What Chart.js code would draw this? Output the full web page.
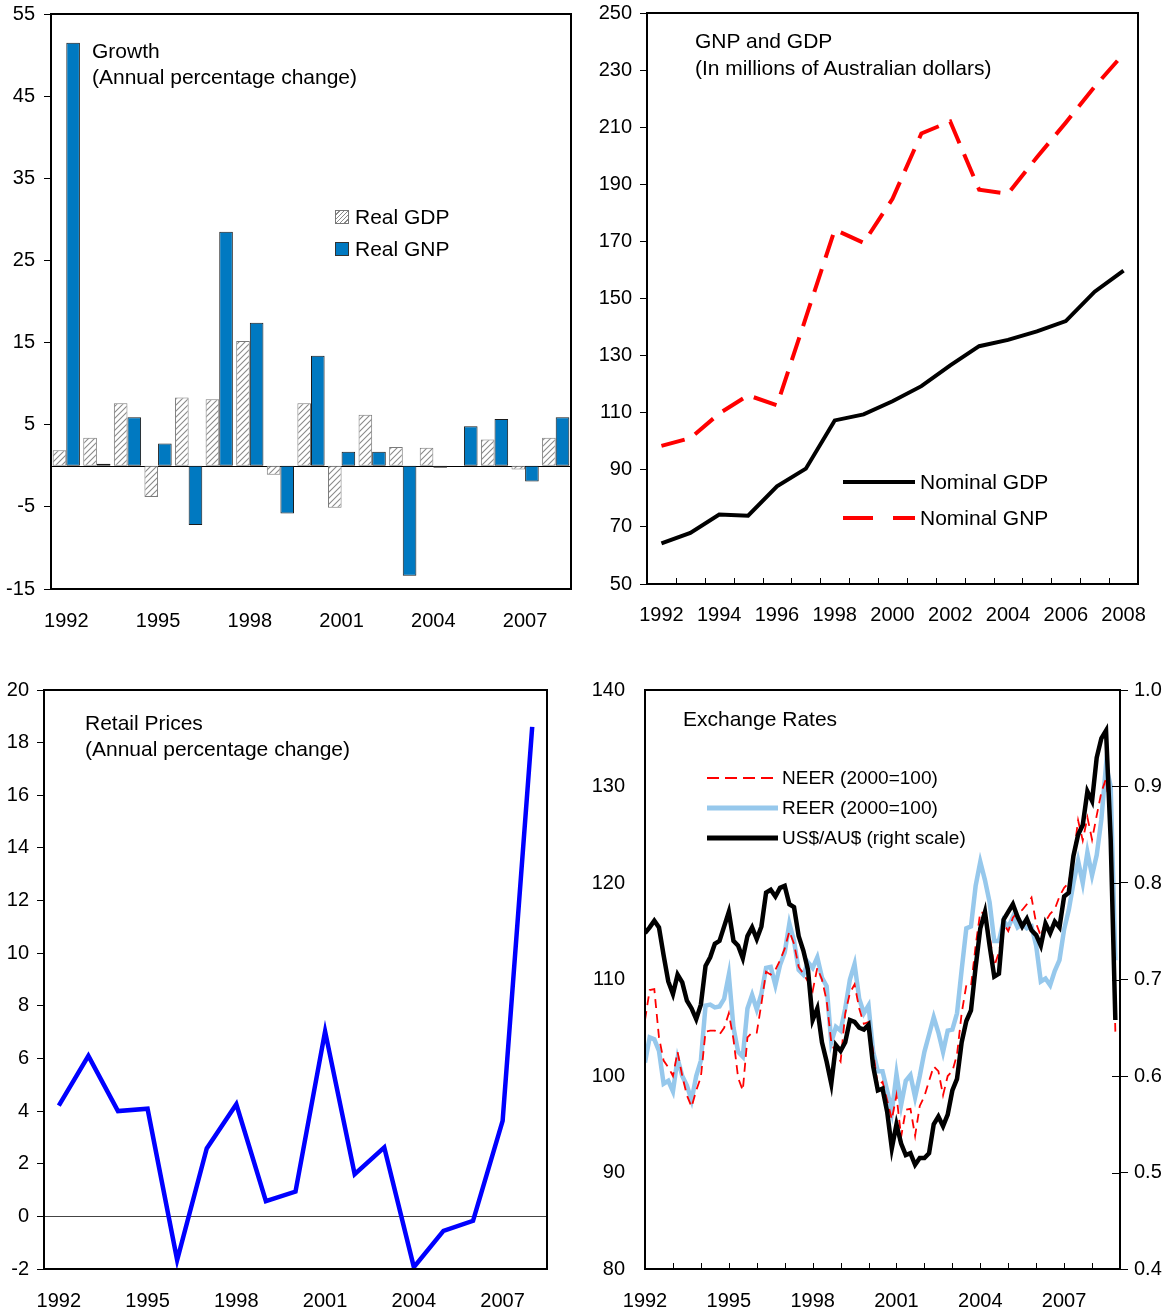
<!DOCTYPE html>
<html>
<head>
<meta charset="utf-8">
<title>Australia: growth, GNP/GDP, retail prices, exchange rates</title>
<script src="https://cdn.jsdelivr.net/npm/chart.js@4.4.1/dist/chart.umd.min.js"></script>
<style>
  body { margin: 0; background: #fff; font-family: "Liberation Sans", Arial, sans-serif; color: #000; }
  #page { position: relative; width: 1170px; height: 1316px; overflow: hidden; }
  canvas { position: absolute; }
  .note { position: absolute; font-size: 21px; line-height: 26px; white-space: nowrap; }
  .key { position: absolute; height: 24px; display: flex; align-items: center; font-size: 21px; white-space: nowrap; }
  .key.small { font-size: 19px; }
  .sq { width: 12px; height: 12px; border: 1px solid #333; margin-right: 6px; }
  .hatch { background: repeating-linear-gradient(135deg, #fff 0 2px, #8a8a8a 2px 3px); border-color: #777; }
  .key svg { margin-right: 5px; }
</style>
</head>
<body>
<div id="page">
  <canvas id="cTL" width="585" height="647" style="left:0;top:-7px"></canvas>
  <canvas id="cTR" width="585" height="647" style="left:585px;top:-7px"></canvas>
  <canvas id="cBL" width="585" height="656" style="left:0;top:660px"></canvas>
  <canvas id="cBR" width="585" height="656" style="left:585px;top:660px"></canvas>

  <div class="note" style="left:92px;top:38px">Growth<br>(Annual percentage change)</div>
  <div class="key" style="left:335px;top:205px"><span class="sq hatch"></span>Real GDP</div>
  <div class="key" style="left:335px;top:237px"><span class="sq" style="background:#0079c1"></span>Real GNP</div>

  <div class="note" style="left:695px;top:27px;line-height:27px">GNP and GDP<br>(In millions of Australian dollars)</div>
  <div class="key" style="left:843px;top:470px"><svg width="72" height="10"><line x1="0" y1="5" x2="72" y2="5" stroke="#000" stroke-width="4"/></svg>Nominal GDP</div>
  <div class="key" style="left:843px;top:506px"><svg width="72" height="10"><line x1="0" y1="5" x2="72" y2="5" stroke="#f00" stroke-width="4" stroke-dasharray="30 20"/></svg>Nominal GNP</div>

  <div class="note" style="left:85px;top:710px">Retail Prices<br>(Annual percentage change)</div>

  <div class="note" style="left:683px;top:706px">Exchange Rates</div>
  <div class="key small" style="left:707px;top:766px"><svg width="71" height="10" style="margin-right:4px"><line x1="0" y1="5" x2="71" y2="5" stroke="#f00" stroke-width="2" stroke-dasharray="12 6"/></svg>NEER (2000=100)</div>
  <div class="key small" style="left:707px;top:796px"><svg width="71" height="10" style="margin-right:4px"><line x1="0" y1="5" x2="71" y2="5" stroke="#96c8ec" stroke-width="5"/></svg>REER (2000=100)</div>
  <div class="key small" style="left:707px;top:826px"><svg width="71" height="10" style="margin-right:4px"><line x1="0" y1="5" x2="71" y2="5" stroke="#000" stroke-width="5"/></svg>US$/AU$ (right scale)</div>
</div>

<script>
// ---- data ----
var years = ['1992','1993','1994','1995','1996','1997','1998','1999','2000',
             '2001','2002','2003','2004','2005','2006','2007','2008'];

// growth, annual percent change
var realGdp = [1.9, 3.4, 7.6, -3.8, 8.3, 8.1, 15.2, -1.1, 7.6, -5.1, 6.2, 2.3, 2.2, 0, 3.2, -0.45, 3.4];
var realGnp = [51.5, 0.25, 5.9, 2.7, -7.2, 28.5, 17.4, -5.8, 13.4, 1.7, 1.7, -13.4, -0.25, 4.8, 5.7, -1.9, 5.9];
var growthTicks = [-15, -5, 5, 15, 25, 35, 45, 55];

// nominal GDP / GNP, millions of AU$
var nomGdp = [64.2, 67.9, 74.3, 73.9, 84.2, 90.4, 107.3, 109.4, 114.0, 119.3, 126.6, 133.3, 135.5, 138.5, 142.1, 152.4, 159.8];
var nomGnp = [98.4, 101.1, 109.7, 116.1, 112.6, 143.3, 174.1, 169.5, 184.9, 207.8, 212.0, 188.1, 186.7, 199.5, 211.6, 224.2, 235.7];
var levelTicks = [50, 70, 90, 110, 130, 150, 170, 190, 210, 230, 250];

// retail prices, annual percent change
var retail = [4.21, 6.1, 4.0, 4.09, -1.66, 2.58, 4.26, 0.58, 0.94, 7.03, 1.6, 2.62, -1.93, -0.55, -0.17, 3.63, 18.6];
var retailTicks = [-2, 0, 2, 4, 6, 8, 10, 12, 14, 16, 18, 20];

// exchange rates, one reading every two months from Jan 1992
var exStartYear = 1992;
var exMonthsPerPoint = 2;
var neer = [105.8,108.9,109.0,104.0,101.6,100.9,100.0,102.5,100.0,98.0,96.8,98.5,
            99.9,104.6,104.7,104.7,104.3,105.0,106.5,103.8,99.8,98.5,104.0,104.5,
            104.5,107.5,110.8,110.5,111.0,112.0,113.2,115.0,113.7,111.3,110.6,109.8,
            108.8,111.2,110.0,107.8,103.5,102.3,101.5,106.5,108.6,109.5,107.0,105.4,
            105.6,102.5,99.0,99.4,97.5,95.5,98.0,93.7,96.5,96.6,93.8,96.9,
            97.9,99.5,101.0,100.5,98.0,100.0,100.5,102.2,106.5,109.4,109.3,113.5,
            117.0,116.8,114.5,111.4,112.8,115.8,115.0,116.4,117.0,117.2,117.8,118.5,
            115.8,114.5,116.0,116.8,117.3,118.6,119.5,120.0,122.7,126.5,124.4,126.8,
            124.5,127.0,129.4,130.8,126.5,104.6];
var reer = [101.4,104.0,103.8,102.6,99.2,99.5,98.4,101.8,100.0,99.0,97.5,100.0,
            101.6,107.3,107.4,107.1,107.2,108.0,110.5,105.0,102.5,102.0,107.0,108.4,
            106.9,108.5,111.2,111.3,109.4,111.5,112.8,115.8,114.0,111.0,110.5,111.8,
            111.2,112.3,110.2,109.3,103.5,105.1,104.7,107.0,110.0,111.6,108.0,106.5,
            107.3,102.5,100.5,100.5,98.5,96.3,100.2,97.0,99.5,100.1,97.8,100.0,
            102.5,104.3,106.1,104.5,102.5,104.7,104.8,106.5,111.0,115.3,115.5,119.7,
            122.2,120.3,118.0,114.0,114.0,116.1,115.4,116.5,115.4,115.8,115.3,115.5,
            113.5,109.8,110.1,109.4,110.9,112.0,115.2,117.2,120.0,122.3,120.0,123.2,
            120.8,122.9,126.6,132.2,130.0,112.0];
var usdAud = [0.748,0.754,0.761,0.754,0.725,0.698,0.685,0.705,0.697,0.678,0.670,0.659,
              0.674,0.714,0.723,0.737,0.740,0.755,0.770,0.740,0.735,0.722,0.745,0.754,
              0.742,0.755,0.790,0.793,0.786,0.795,0.797,0.778,0.775,0.745,0.730,0.710,
              0.658,0.670,0.635,0.615,0.592,0.632,0.626,0.635,0.658,0.656,0.650,0.648,
              0.653,0.610,0.585,0.587,0.563,0.525,0.550,0.530,0.518,0.520,0.508,0.515,
              0.515,0.520,0.550,0.558,0.548,0.560,0.585,0.597,0.635,0.657,0.668,0.713,
              0.753,0.770,0.735,0.703,0.706,0.762,0.770,0.778,0.765,0.755,0.763,0.751,
              0.746,0.735,0.758,0.748,0.760,0.754,0.786,0.790,0.828,0.850,0.860,0.895,
              0.885,0.930,0.950,0.958,0.845,0.658];
var indexTicks = [80, 90, 100, 110, 120, 130, 140];
var usdTicks = [0.4, 0.5, 0.6, 0.7, 0.8, 0.9, 1.0];
var exYearTicks = [1992,1993,1994,1995,1996,1997,1998,1999,2000,2001,2002,2003,2004,2005,2006,2007,2008,2009];

// ---- helpers ----
Chart.defaults.font.family = '"Liberation Sans", Arial, sans-serif';
Chart.defaults.font.size = 20;
Chart.defaults.color = '#000';

function fixedTicks(list) {
    return function (scale) { scale.ticks = list.map(function (v) { return { value: v }; }); };
}
function fixedWidth(w) { return function (scale) { scale.width = w; }; }
function fixedHeight(h) { return function (scale) { scale.height = h; }; }

// box round the plot, optional zero line and inward tick marks on the x axis
function makeFrame(opts) {
    return {
        id: 'frame',
        beforeDatasetsDraw: function (chart) {
            if (!opts.zero) return;
            var ctx = chart.ctx, a = chart.chartArea;
            var y = Math.round(chart.scales.y.getPixelForValue(0)) + 0.5;
            ctx.save();
            ctx.strokeStyle = opts.zeroColor || '#000';
            ctx.lineWidth = 1;
            ctx.beginPath(); ctx.moveTo(a.left, y); ctx.lineTo(a.right, y); ctx.stroke();
            ctx.restore();
        },
        afterDatasetsDraw: function (chart) {
            var ctx = chart.ctx, a = chart.chartArea;
            ctx.save();
            ctx.strokeStyle = '#000';
            ctx.lineWidth = 1;
            if (opts.innerX) {
                opts.innerX(chart.scales.x).forEach(function (px) {
                    px = Math.round(px) + 0.5;
                    ctx.beginPath(); ctx.moveTo(px, a.bottom); ctx.lineTo(px, a.bottom - 6); ctx.stroke();
                });
            }
            if (opts.innerRight) {
                var s = chart.scales.y1;
                usdTicks.forEach(function (v) {
                    var py = Math.round(s.getPixelForValue(v)) + 0.5;
                    ctx.beginPath(); ctx.moveTo(a.right, py); ctx.lineTo(a.right - 8, py); ctx.stroke();
                });
            }
            ctx.lineWidth = 2;
            ctx.strokeRect(a.left, a.top, a.right - a.left, a.bottom - a.top);
            ctx.restore();
        }
    };
}

function yAxisOuter(min, max, list, width, pad) {
    return {
        min: min, max: max,
        afterBuildTicks: fixedTicks(list),
        afterFit: fixedWidth(width),
        border: { display: false },
        grid: { drawOnChartArea: false, tickLength: 7, tickColor: '#000', lineWidth: 1 },
        ticks: { padding: pad }
    };
}

// ---- growth bars ----
var tlCanvas = document.getElementById('cTL');
var tile = document.createElement('canvas');
tile.width = 6; tile.height = 6;
var tg = tile.getContext('2d');
tg.fillStyle = '#fff'; tg.fillRect(0, 0, 6, 6);
tg.strokeStyle = '#8a8a8a'; tg.lineWidth = 1.1;
tg.beginPath();
tg.moveTo(0, 6); tg.lineTo(6, 0);
tg.moveTo(-1, 1); tg.lineTo(1, -1);
tg.moveTo(5, 7); tg.lineTo(7, 5);
tg.stroke();
var hatch = tlCanvas.getContext('2d').createPattern(tile, 'repeat');

new Chart(tlCanvas, {
    type: 'bar',
    data: {
        labels: years,
        datasets: [
            { label: 'Real GDP', data: realGdp, backgroundColor: hatch, borderColor: '#7a7a7a', borderWidth: 1, borderSkipped: false },
            { label: 'Real GNP', data: realGnp, backgroundColor: '#0079c1', borderColor: '#1b1b1b', borderWidth: 1, borderSkipped: false }
        ]
    },
    options: {
        responsive: false, animation: false,
        layout: { padding: { top: 14, right: 14, left: 0, bottom: 0 } },
        plugins: { legend: { display: false }, tooltip: { enabled: false } },
        datasets: { bar: { barPercentage: 1, categoryPercentage: 0.89 } },
        scales: {
            x: {
                afterFit: fixedHeight(51),
                grid: { display: false }, border: { display: false },
                ticks: { autoSkip: false, maxRotation: 0, padding: 12,
                         callback: function (v, i) { return i % 3 === 0 ? years[i] : ''; } }
            },
            y: yAxisOuter(-15, 55, growthTicks, 51, 9)
        }
    },
    plugins: [makeFrame({ zero: true })]
});

// ---- nominal GNP / GDP ----
new Chart(document.getElementById('cTR'), {
    type: 'line',
    data: {
        labels: years,
        datasets: [
            { label: 'Nominal GDP', data: nomGdp, borderColor: '#000', borderWidth: 4, pointRadius: 0, tension: 0 },
            { label: 'Nominal GNP', data: nomGnp, borderColor: '#ff0000', borderWidth: 4, borderDash: [24, 12], pointRadius: 0, tension: 0 }
        ]
    },
    options: {
        responsive: false, animation: false,
        layout: { padding: { top: 14, right: 32, left: 0, bottom: 0 } },
        plugins: { legend: { display: false }, tooltip: { enabled: false } },
        scales: {
            x: {
                offset: true,
                afterFit: fixedHeight(56),
                grid: { display: false }, border: { display: false },
                ticks: { autoSkip: false, maxRotation: 0, padding: 11,
                         callback: function (v, i) { return i % 2 === 0 ? years[i] : ''; } }
            },
            y: yAxisOuter(50, 250, levelTicks, 62, 8)
        }
    },
    plugins: [makeFrame({
        innerX: function (s) {
            var out = [];
            for (var i = 1; i < years.length; i++) out.push(s.getPixelForValue(i - 0.5));
            return out;
        }
    })]
});

// ---- retail prices ----
new Chart(document.getElementById('cBL'), {
    type: 'line',
    data: {
        labels: years,
        datasets: [
            { label: 'Retail prices', data: retail, borderColor: '#0000ff', borderWidth: 4.5, pointRadius: 0, tension: 0 }
        ]
    },
    options: {
        responsive: false, animation: false,
        layout: { padding: { top: 30, right: 38, left: 0, bottom: 0 } },
        plugins: { legend: { display: false }, tooltip: { enabled: false } },
        scales: {
            x: {
                offset: true,
                afterFit: fixedHeight(47),
                grid: { display: false }, border: { display: false },
                ticks: { autoSkip: false, maxRotation: 0, padding: 12,
                         callback: function (v, i) { return i % 3 === 0 ? years[i] : ''; } }
            },
            y: yAxisOuter(-2, 20, retailTicks, 44, 8)
        }
    },
    plugins: [makeFrame({ zero: true, zeroColor: '#444' })]
});

// ---- exchange rates ----
var exX = neer.map(function (v, i) { return exStartYear + i * exMonthsPerPoint / 12; });

new Chart(document.getElementById('cBR'), {
    type: 'line',
    data: {
        labels: exX,
        datasets: [
            { label: 'US$/AU$ (right scale)', data: usdAud, yAxisID: 'y1', borderColor: '#000', borderWidth: 4.5, pointRadius: 0, tension: 0, order: 1 },
            { label: 'NEER (2000=100)', data: neer, yAxisID: 'y', borderColor: '#ff0000', borderWidth: 1.8, borderDash: [9, 6], pointRadius: 0, tension: 0, order: 2 },
            { label: 'REER (2000=100)', data: reer, yAxisID: 'y', borderColor: '#96c8ec', borderWidth: 4.5, pointRadius: 0, tension: 0, order: 3 }
        ]
    },
    options: {
        responsive: false, animation: false,
        layout: { padding: { top: 30, right: 0, left: 0, bottom: 0 } },
        plugins: { legend: { display: false }, tooltip: { enabled: false } },
        scales: {
            x: {
                type: 'linear', min: 1992, max: 2009,
                afterBuildTicks: fixedTicks(exYearTicks),
                afterFit: fixedHeight(47),
                grid: { display: false }, border: { display: false },
                ticks: { autoSkip: false, maxRotation: 0, padding: 12,
                         callback: function (v) { return (v - 1992) % 3 === 0 && v < 2009 ? String(v) : ''; } }
            },
            y: {
                position: 'left', min: 80, max: 140,
                afterBuildTicks: fixedTicks(indexTicks),
                afterFit: fixedWidth(60),
                border: { display: false },
                grid: { display: false },
                ticks: { padding: 12 }
            },
            y1: {
                position: 'right', min: 0.4, max: 1.0,
                afterBuildTicks: fixedTicks(usdTicks),
                afterFit: fixedWidth(50),
                border: { display: false },
                grid: { drawOnChartArea: false, tickLength: 8, tickColor: '#000', lineWidth: 1 },
                ticks: { padding: 6, callback: function (v) { return v.toFixed(1); } }
            }
        }
    },
    plugins: [makeFrame({
        innerRight: true,
        innerX: function (s) { return exYearTicks.map(function (y) { return s.getPixelForValue(y); }); }
    })]
});
</script>
</body>
</html>
